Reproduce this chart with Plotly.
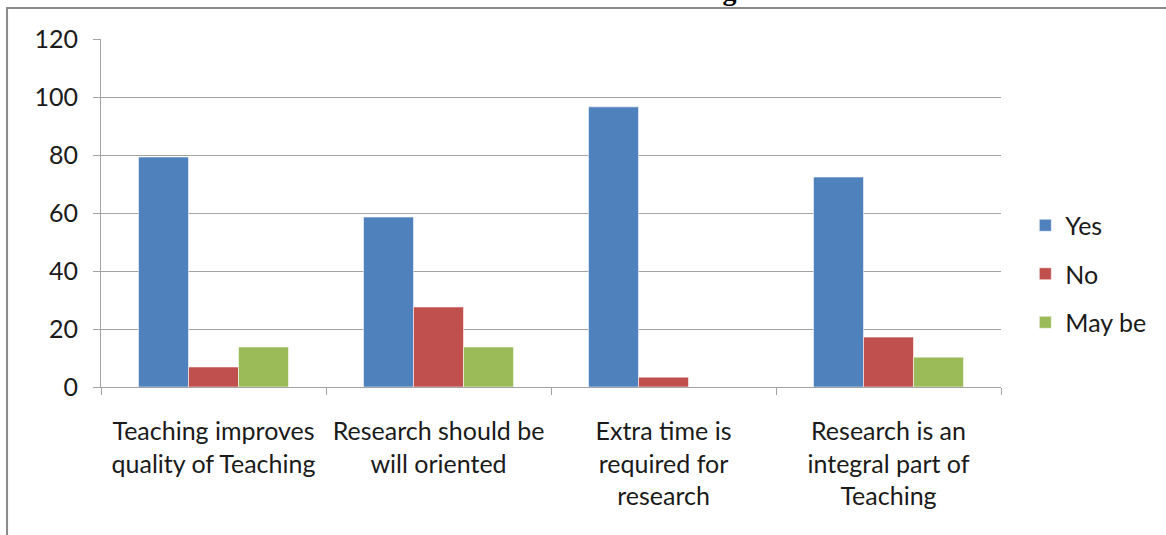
import plotly.graph_objects as go

# Survey responses (percent of respondents) for each statement
categories = [
    "Teaching improves<br>quality of Teaching",
    "Research should be<br>will oriented",
    "Extra time is<br>required for<br>research",
    "Research is an<br>integral part of<br>Teaching",
]
yes_values = [79.3, 58.6, 96.6, 72.4]
no_values = [6.9, 27.6, 3.4, 17.2]
maybe_values = [13.8, 13.8, 0.0, 10.3]

series_names = ["Yes", "No", "May be"]
series_colors = ["#4F81BD", "#C0504D", "#9BBB59"]
y_ticks = [0, 20, 40, 60, 80, 100, 120]

FONT = "Lato"
TEXT_COLOR = "#1a1a1a"
GRID = "#a3a3a3"

fig = go.Figure()
for name, values, color in zip(series_names, [yes_values, no_values, maybe_values], series_colors):
    fig.add_trace(go.Bar(
        x=categories,
        y=values,
        name=name,
        legendgroup=name,
        marker=dict(color=color, line=dict(color="rgba(255,255,255,0.55)", width=1)),
    ))

fig.update_layout(
    width=1166,
    height=535,
    autosize=False,
    margin=dict(l=101, r=165, t=39, b=148),
    paper_bgcolor="white",
    plot_bgcolor="white",
    barmode="group",
    bargap=1 / 3,
    bargroupgap=0,
    font=dict(family=FONT, size=25, color=TEXT_COLOR),
    showlegend=True,
    legend=dict(
        x=1.027,
        xanchor="left",
        y=0.3247,
        yanchor="middle",
        traceorder="grouped",
        tracegroupgap=13,
        font=dict(family=FONT, size=25, color=TEXT_COLOR),
        bgcolor="rgba(0,0,0,0)",
        borderwidth=0,
    ),
)

fig.update_yaxes(
    range=[0, 120],
    tickvals=y_ticks,
    showgrid=True,
    gridcolor=GRID,
    gridwidth=1,
    showline=True,
    linecolor=GRID,
    linewidth=1,
    ticks="outside",
    ticklen=7,
    tickcolor=GRID,
    ticklabelstandoff=10,
    zeroline=False,
    tickfont=dict(family=FONT, size=25, color=TEXT_COLOR),
)

fig.update_xaxes(
    type="category",
    tickson="boundaries",
    showline=True,
    linecolor=GRID,
    linewidth=1,
    ticks="outside",
    ticklen=7,
    tickcolor=GRID,
    showgrid=False,
    ticklabelstandoff=22,
    tickfont=dict(family=FONT, size=25, color=TEXT_COLOR),
)

# Outer chart frame (left and top edges)
fig.add_shape(
    type="path",
    xref="paper",
    yref="paper",
    path="M -0.1044,-0.43 L -0.1044,1.0891 L 1.19,1.0891",
    line=dict(color="#8a8a8a", width=2),
)

# Chart title, sitting above the frame
fig.add_annotation(
    text="<b>Research and Teaching</b>",
    xref="paper",
    yref="paper",
    x=0.552,
    y=1.0905,
    xanchor="center",
    yanchor="bottom",
    showarrow=False,
    font=dict(family="Liberation Serif", size=28, color="black"),
)

fig.write_html("out.html")
